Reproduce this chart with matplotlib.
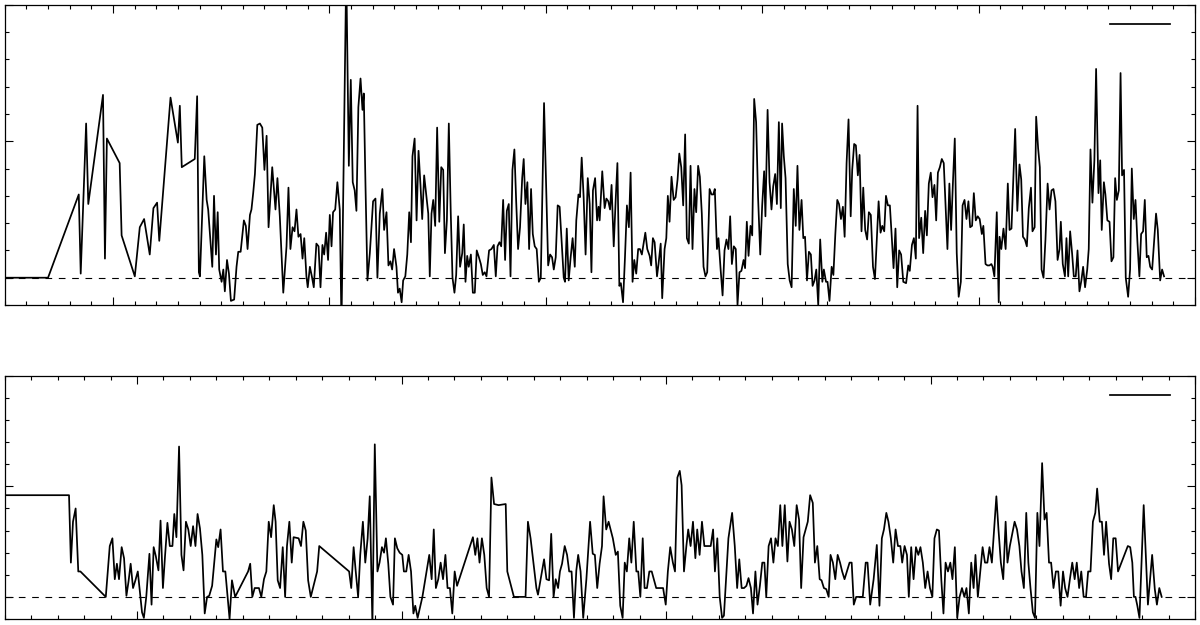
import matplotlib.pyplot as plt
from matplotlib.ticker import MultipleLocator
from matplotlib.lines import Line2D

# upper series (decimal year, value)
top_year = [
    1955.00, 1957.00, 1958.42, 1958.51, 1958.76, 1958.86, 1959.54, 1959.63, 1959.72, 1960.31,
    1960.40, 1961.01, 1961.24, 1961.44, 1961.70, 1961.87, 1962.04, 1962.14, 1962.66, 1963.00,
    1963.09, 1963.18, 1963.78, 1963.89, 1963.97, 1964.02,
    1964.22, 1964.33, 1964.40, 1964.59, 1964.67, 1964.76, 1964.84, 1964.91, 1965.02, 1965.10,
    1965.17, 1965.27, 1965.36, 1965.45, 1965.60, 1965.71, 1965.79, 1965.90, 1966.05, 1966.14,
    1966.22, 1966.33, 1966.40, 1966.48, 1966.56, 1966.67, 1966.79, 1966.90, 1967.00, 1967.10,
    1967.19, 1967.36, 1967.51, 1967.60, 1967.71, 1967.87, 1968.02, 1968.11, 1968.20, 1968.30,
    1968.39, 1968.48, 1968.57, 1968.67, 1968.76, 1968.84, 1968.94, 1969.00, 1969.10, 1969.19,
    1969.28, 1969.40, 1969.50, 1969.59, 1969.68, 1969.76, 1969.85, 1969.94, 1970.02, 1970.10,
    1970.17, 1970.27, 1970.37, 1970.48, 1970.56, 1970.78, 1970.90, 1970.99, 1971.08, 1971.17,
    1971.25, 1971.34, 1971.44, 1971.53, 1971.59, 1971.67, 1971.76, 1971.87, 1972.02, 1972.13,
    1972.22, 1972.33, 1972.45, 1972.53, 1972.64, 1972.73, 1972.82, 1972.90, 1972.99, 1973.10,
    1973.17, 1973.25,
    1973.34, 1973.41, 1973.51, 1973.60, 1973.69, 1973.77, 1973.84, 1973.94, 1974.03, 1974.12,
    1974.21, 1974.29, 1974.38, 1974.49, 1974.57, 1974.64, 1974.72, 1974.80, 1974.89, 1974.98,
    1975.08, 1975.17, 1975.26, 1975.34, 1975.43, 1975.52, 1975.61, 1975.69, 1975.78, 1975.86,
    1975.95, 1976.04, 1976.14, 1976.21, 1976.29, 1976.37, 1976.44, 1976.54, 1976.63, 1976.72,
    1976.81, 1976.91, 1977.00, 1977.09, 1977.18, 1977.26, 1977.38, 1977.49, 1977.60, 1977.69,
    1977.77, 1977.86, 1977.94, 1978.03, 1978.12, 1978.20, 1978.29, 1978.37, 1978.46, 1978.55,
    1978.63, 1978.72, 1978.81, 1978.91, 1978.98, 1979.06, 1979.15, 1979.23, 1979.32, 1979.40,
    1979.49, 1979.58, 1979.68, 1979.77, 1979.92, 1980.11, 1980.20, 1980.29, 1980.37, 1980.46,
    1980.55, 1980.64, 1980.74, 1980.83, 1980.89, 1980.97, 1981.06, 1981.15, 1981.24, 1981.34,
    1981.41, 1981.51, 1981.58, 1981.66, 1981.75, 1981.84, 1981.94, 1982.03, 1982.11, 1982.18,
    1982.28, 1982.37, 1982.44,
    1982.49, 1982.61, 1982.72, 1982.80, 1982.89, 1982.97, 1983.04, 1983.14, 1983.23, 1983.31,
    1983.40, 1983.47, 1983.57, 1983.66, 1983.75, 1983.84, 1983.92, 1984.01, 1984.09, 1984.18,
    1984.27, 1984.35, 1984.44, 1984.60, 1984.69, 1984.80, 1984.87, 1984.95, 1985.03, 1985.14,
    1985.21, 1985.31, 1985.38, 1985.49, 1985.57, 1985.64, 1985.72, 1985.81, 1985.91, 1986.00,
    1986.09, 1986.17, 1986.26, 1986.35, 1986.44, 1986.52, 1986.61, 1986.69, 1986.78, 1986.87,
    1986.95, 1987.04, 1987.12, 1987.21, 1987.29, 1987.38, 1987.46, 1987.57, 1987.66, 1987.74,
    1987.81, 1987.91, 1987.98, 1988.08, 1988.17, 1988.26, 1988.35, 1988.44, 1988.52, 1988.60,
    1988.69, 1988.78, 1988.86, 1988.95, 1989.04, 1989.14, 1989.21, 1989.29, 1989.37, 1989.46,
    1989.54, 1989.63, 1989.72, 1989.81, 1989.91, 1990.00, 1990.09, 1990.15, 1990.25, 1990.34,
    1990.43, 1990.51, 1990.60, 1990.68, 1990.77, 1990.86, 1990.92, 1991.00, 1991.08, 1991.18,
    1991.27, 1991.36, 1991.46, 1991.55, 1991.63, 1991.72,
    1991.82, 1991.90, 1991.98, 1992.07, 1992.16, 1992.25, 1992.33, 1992.42, 1992.50, 1992.59,
    1992.68, 1992.78, 1992.85, 1992.95, 1993.02, 1993.11, 1993.21, 1993.29, 1993.38, 1993.47,
    1993.55, 1993.64, 1993.73, 1993.81, 1993.90, 1993.99, 1994.09, 1994.16, 1994.25, 1994.33,
    1994.42, 1994.50, 1994.59, 1994.67, 1994.76, 1994.85, 1994.93, 1995.02, 1995.12, 1995.21,
    1995.29, 1995.38, 1995.47, 1995.55, 1995.64, 1995.72, 1995.81, 1995.90, 1995.98, 1996.07,
    1996.16, 1996.24, 1996.33, 1996.42, 1996.52, 1996.65, 1996.75, 1996.82, 1996.92, 1997.01,
    1997.10, 1997.18, 1997.25, 1997.35, 1997.44, 1997.53, 1997.61, 1997.70, 1997.79, 1997.87,
    1997.96, 1998.04, 1998.12, 1998.21, 1998.30, 1998.39, 1998.49, 1998.56, 1998.65, 1998.73,
    1998.82, 1998.90, 1998.99, 1999.08, 1999.18, 1999.26, 1999.35, 1999.44, 1999.53, 1999.61,
    1999.70, 1999.78, 1999.87, 1999.96, 2000.05, 2000.15, 2000.22, 2000.32, 2000.41, 2000.50,
    2000.59, 2000.65, 2000.73, 2000.84, 2000.93,
    2000.97, 2001.05, 2001.15, 2001.25, 2001.35, 2001.43, 2001.52, 2001.69, 2001.79, 2001.89,
    2001.97, 2002.05, 2002.14, 2002.23, 2002.32, 2002.42, 2002.49, 2002.59, 2002.66, 2002.75,
    2002.83, 2002.91, 2003.00, 2003.09, 2003.19, 2003.28, 2003.37, 2003.46, 2003.55, 2003.65,
    2003.74, 2003.80, 2003.89, 2003.99, 2004.06, 2004.14, 2004.23, 2004.32, 2004.40, 2004.49,
    2004.57, 2004.66, 2004.75, 2004.83, 2004.92, 2005.02, 2005.09, 2005.17, 2005.26, 2005.35,
    2005.43, 2005.54, 2005.62, 2005.69, 2005.79, 2005.86, 2005.95, 2006.05, 2006.14, 2006.23,
    2006.31, 2006.39, 2006.48, 2006.56, 2006.63, 2006.72, 2006.80, 2006.91, 2007.00, 2007.08,
    2007.17, 2007.25, 2007.34, 2007.43, 2007.51, 2007.60, 2007.68, 2007.77, 2007.85, 2007.93,
    2008.02, 2008.11, 2008.20, 2008.28, 2008.39, 2008.48, 2008.57,
]
top_value = [
    0.00, 0.00, 0.61, 0.03, 1.13, 0.54, 1.34, 0.14, 1.02, 0.84,
    0.31, 0.01, 0.37, 0.43, 0.17, 0.51, 0.55, 0.27, 1.32, 0.99,
    1.26, 0.81, 0.87, 1.33, 0.04, 0.01,
    0.89, 0.57, 0.50, 0.08, 0.60, 0.17, 0.48, 0.06, -0.03, 0.06,
    -0.10, 0.13, 0.03, -0.17, -0.16, 0.08, 0.19, 0.19, 0.42, 0.38,
    0.21, 0.46, 0.50, 0.62, 0.76, 1.12, 1.13, 1.10, 0.79, 1.04,
    0.37, 0.81, 0.50, 0.73, 0.45, -0.11, 0.23, 0.66, 0.21, 0.37,
    0.34, 0.50, 0.30, 0.32, 0.14, 0.29, 0.01, -0.07, 0.08, 0.01,
    -0.07, 0.25, 0.23, -0.07, 0.24, 0.17, 0.33, 0.13, 0.46, 0.23,
    0.48, 0.50, 0.70, 0.50, -0.35, 2.25, 0.82, 1.45, 0.70, 0.64,
    0.49, 1.25, 1.46, 1.23, 1.35, 0.67, -0.02, 0.18, 0.56, 0.58,
    0.00, 0.47, 0.65, 0.35, 0.48, 0.09, 0.12, 0.06, 0.21, 0.08,
    -0.11, -0.08,
    -0.18, -0.02, 0.01, 0.17, 0.48, 0.26, 0.89, 1.02, 0.42, 0.93,
    0.68, 0.43, 0.75, 0.59, 0.47, 0.01, 0.47, 0.57, 0.38, 1.10,
    0.41, 0.81, 0.79, 0.18, 0.42, 1.13, 0.47, 0.00, -0.11, 0.02,
    0.45, 0.08, 0.18, 0.39, -0.03, 0.16, 0.08, 0.17, -0.11, -0.11,
    0.20, 0.15, 0.10, 0.02, 0.04, 0.01, 0.20, 0.21, 0.24, 0.01,
    0.23, 0.26, 0.23, 0.57, 0.13, 0.49, 0.54, 0.01, 0.79, 0.94,
    0.57, 0.21, 0.37, 0.73, 0.87, 0.54, 0.70, 0.21, 0.65, 0.32,
    0.23, 0.21, -0.03, 0.00, 1.28, 0.09, 0.17, 0.15, 0.06, 0.15,
    0.53, 0.52, 0.25, 0.00, -0.03, 0.36, -0.02, 0.15, 0.29, 0.08,
    0.42, 0.61, 0.59, 0.88, 0.59, 0.17, 0.73, 0.54, 0.04, 0.64,
    0.73, 0.42, 0.52,
    0.42, 0.78, 0.51, 0.58, 0.56, 0.50, 0.68, 0.23, 0.57, 0.84,
    -0.06, -0.04, -0.18, 0.15, 0.53, 0.37, 0.77, -0.03, 0.13, 0.03,
    0.21, 0.21, 0.17, 0.33, 0.21, 0.16, 0.09, 0.29, 0.26, 0.01,
    0.10, 0.25, -0.15, 0.21, 0.29, 0.60, 0.41, 0.74, 0.57, 0.59,
    0.72, 0.91, 0.81, 0.53, 1.05, 0.29, 0.25, 0.82, 0.21, 0.65,
    0.48, 0.82, 0.74, 0.47, 0.08, 0.01, 0.04, 0.65, 0.61, 0.61,
    0.65, 0.21, 0.29, 0.06, -0.13, 0.20, 0.28, 0.21, 0.45, 0.10,
    0.23, 0.21, -0.20, 0.04, 0.05, 0.13, 0.07, 0.41, 0.16, 0.38,
    0.31, 1.31, 1.14, 0.59, 0.17, 0.53, 0.78, 0.45, 1.23, 0.70,
    0.50, 0.67, 0.76, 0.54, 1.14, 0.51, 1.13, 0.89, 0.73, 0.10,
    -0.02, -0.07, 0.65, 0.38, 0.82, 0.35,
    0.57, 0.29, 0.30, -0.02, 0.19, 0.17, -0.06, -0.02, 0.06, -0.20,
    0.28, -0.03, 0.06, -0.03, -0.03, -0.17, 0.08, 0.02, 0.32, 0.57,
    0.54, 0.43, 0.52, 0.30, 0.84, 1.16, 0.45, 0.79, 0.98, 0.97,
    0.75, 0.90, 0.34, 0.66, 0.35, 0.28, 0.48, 0.46, 0.08, -0.01,
    0.26, 0.56, 0.33, 0.38, 0.34, 0.60, 0.53, 0.53, 0.32, 0.07,
    0.36, -0.07, 0.20, 0.17, -0.03, -0.04, 0.09, 0.05, 0.24, 0.29,
    0.14, 1.26, 0.29, 0.44, 0.18, 0.49, 0.31, 0.69, 0.77, 0.59,
    0.68, 0.42, 0.77, 0.81, 0.87, 0.84, 0.47, 0.21, 0.69, 0.35,
    0.72, 1.02, 0.18, -0.14, -0.03, 0.53, 0.57, 0.43, 0.56, 0.37,
    0.38, 0.62, 0.42, 0.45, 0.43, 0.32, 0.38, 0.10, 0.09, 0.09,
    0.10, 0.08, 0.01, 0.48, -0.18,
    0.30, 0.21, 0.36, 0.21, 0.69, 0.35, 0.36, 1.09, 0.49, 0.83,
    0.72, 0.30, 0.28, 0.23, 0.51, 0.66, 0.34, 0.37, 1.18, 0.95,
    0.81, 0.06, 0.00, 0.28, 0.69, 0.50, 0.64, 0.65, 0.56, 0.13,
    0.21, 0.41, 0.10, 0.01, 0.29, 0.01, 0.34, 0.18, 0.01, 0.01,
    0.20, -0.10, -0.02, 0.08, -0.07, 0.06, 0.21, 0.94, 0.55, 0.86,
    1.53, 0.62, 0.86, 0.35, 0.70, 0.61, 0.42, 0.41, 0.12, 0.15,
    0.73, 0.57, 0.64, 1.50, 0.75, 0.79, 0.00, -0.14, 0.06, 0.80,
    0.43, 0.57, 0.26, 0.01, 0.32, 0.34, 0.57, 0.15, 0.16, 0.08,
    0.06, 0.26, 0.47, 0.35, -0.02, 0.06, 0.01,
]

# lower series (decimal year, value)
bottom_year = [
    1965.00, 1967.43, 1967.50, 1967.58, 1967.68, 1967.78, 1967.86, 1968.82, 1968.97, 1969.07,
    1969.16, 1969.24, 1969.32, 1969.42, 1969.51, 1969.60, 1969.68, 1969.76, 1969.85, 1969.94,
    1970.03, 1970.10, 1970.19, 1970.26, 1970.35, 1970.47, 1970.55, 1970.63, 1970.71, 1970.81,
    1970.89, 1970.98, 1971.06, 1971.15, 1971.24, 1971.34, 1971.41, 1971.49, 1971.59, 1971.68,
    1971.76, 1971.85, 1971.94, 1972.03, 1972.12, 1972.21, 1972.29, 1972.38, 1972.47, 1972.56,
    1972.65, 1972.73, 1972.84, 1973.00, 1973.07, 1973.16, 1973.25, 1973.34, 1973.50, 1973.59,
    1973.71, 1974.20, 1974.28, 1974.36, 1974.45, 1974.61, 1974.70, 1974.80, 1974.89, 1974.98,
    1975.07, 1975.17, 1975.24, 1975.32, 1975.41, 1975.51, 1975.60, 1975.67, 1975.76, 1975.85,
    1975.92, 1976.11, 1976.20, 1976.29, 1976.38, 1976.47, 1976.57, 1976.81, 1976.89, 1978.02,
    1978.10, 1978.19, 1978.27, 1978.36, 1978.44, 1978.54, 1978.63, 1978.72, 1978.80, 1978.88,
    1978.90, 1978.99, 1979.09, 1979.17, 1979.26, 1979.34, 1979.41, 1979.50, 1979.58, 1979.68,
    1979.75, 1979.84,
    1979.93, 1980.03, 1980.09, 1980.18, 1980.27, 1980.36, 1980.45, 1980.52, 1980.61, 1980.79,
    1981.05, 1981.14, 1981.22, 1981.30, 1981.39, 1981.48, 1981.57, 1981.66, 1981.74, 1981.83,
    1981.92, 1982.01, 1982.10, 1982.70, 1982.79, 1982.87, 1982.95, 1983.04, 1983.13, 1983.22,
    1983.31, 1983.40, 1983.50, 1983.67, 1983.94, 1984.00, 1984.25, 1984.69, 1984.78, 1984.88,
    1985.10, 1985.16, 1985.39, 1985.48, 1985.58, 1985.66, 1985.75, 1985.83, 1985.92, 1985.99,
    1986.07, 1986.17, 1986.26, 1986.34, 1986.43, 1986.52, 1986.61, 1986.68, 1986.77, 1986.87,
    1986.99, 1987.13, 1987.23, 1987.31, 1987.40, 1987.49, 1987.58, 1987.64, 1987.74, 1987.83,
    1987.99, 1988.10, 1988.18, 1988.27, 1988.36, 1988.44, 1988.52, 1988.61, 1988.69, 1988.78,
    1988.88, 1988.95, 1989.03, 1989.12, 1989.19, 1989.28, 1989.37, 1989.46, 1989.63, 1989.89,
    1989.99, 1990.07, 1990.16, 1990.26, 1990.34, 1990.43, 1990.52, 1990.59, 1990.68, 1990.77,
    1990.84, 1990.93, 1991.02, 1991.11, 1991.18, 1991.27, 1991.36, 1991.45, 1991.52, 1991.69,
    1991.78, 1991.85, 1991.94, 1992.03, 1992.12, 1992.19, 1992.36, 1992.50, 1992.60, 1992.69,
    1992.77, 1992.86, 1992.95, 1993.04, 1993.12, 1993.21, 1993.29, 1993.38, 1993.46, 1993.55,
    1993.64, 1993.72, 1993.79, 1993.88, 1993.97, 1994.06, 1994.14, 1994.23, 1994.32, 1994.40,
    1994.49, 1994.59, 1994.67, 1994.76, 1994.85, 1994.94, 1995.03,
    1995.11, 1995.20, 1995.28, 1995.36, 1995.45, 1995.55, 1995.63, 1995.72, 1995.81, 1995.88,
    1995.97, 1996.06, 1996.15, 1996.22, 1996.31, 1996.40, 1996.49, 1996.58, 1996.66, 1996.75,
    1996.84, 1996.94, 1997.02, 1997.10, 1997.19, 1997.44, 1997.55, 1997.62, 1997.72, 1997.85,
    1997.97, 1998.07, 1998.16, 1998.24, 1998.33, 1998.41, 1998.50, 1998.59, 1998.68, 1998.77,
    1998.86, 1998.93, 1999.02, 1999.11, 1999.18, 1999.27, 1999.36, 1999.45, 1999.54, 1999.62,
    1999.71, 1999.80, 1999.89, 1999.98, 2000.07, 2000.15, 2000.24, 2000.32, 2000.41, 2000.49,
    2000.57, 2000.66, 2000.75, 2000.83, 2000.92, 2001.01, 2001.10, 2001.19, 2001.28, 2001.36,
    2001.45, 2001.54, 2001.63, 2001.70, 2001.79, 2001.88, 2001.97, 2002.06, 2002.15, 2002.23,
    2002.32, 2002.49, 2002.57, 2002.66, 2002.75, 2002.84, 2002.91, 2003.00, 2003.18, 2003.27,
    2003.36, 2003.44, 2003.53, 2003.62, 2003.70, 2003.78, 2003.87, 2003.95, 2004.04, 2004.12,
    2004.22, 2004.31, 2004.39, 2004.48, 2004.56, 2004.65, 2004.74, 2004.83, 2004.92, 2005.01,
    2005.09, 2005.18, 2005.27, 2005.36, 2005.45, 2005.53, 2005.62, 2005.70, 2005.79, 2005.88,
    2005.96, 2006.05, 2006.14, 2006.23, 2006.30, 2006.40, 2006.48, 2006.56, 2006.64, 2006.75,
    2006.83, 2006.91, 2007.00, 2007.09, 2007.46, 2007.55, 2007.63, 2007.69, 2007.75, 2007.82,
    2007.90, 2008.06, 2008.22, 2008.38, 2008.48, 2008.56, 2008.65, 2008.74,
]
bottom_value = [
    0.92, 0.92, 0.31, 0.68, 0.80, 0.23, 0.23, 0.00, 0.46, 0.53,
    0.16, 0.30, 0.16, 0.45, 0.35, 0.01, 0.14, 0.30, 0.08, 0.15,
    0.23, 0.07, -0.14, -0.19, 0.00, 0.39, -0.07, 0.45, 0.37, 0.24,
    0.69, 0.08, 0.37, 0.67, 0.46, 0.46, 0.75, 0.54, 1.36, 0.38,
    0.24, 0.68, 0.61, 0.46, 0.64, 0.46, 0.75, 0.62, 0.38, -0.15,
    0.00, 0.01, 0.10, 0.52, 0.45, 0.61, 0.23, 0.23, -0.20, 0.15,
    0.00, 0.23, 0.30, 0.00, 0.08, 0.08, 0.00, 0.16, 0.23, 0.68,
    0.54, 0.83, 0.68, 0.15, 0.08, 0.45, 0.00, 0.46, 0.68, 0.31,
    0.54, 0.53, 0.46, 0.68, 0.60, 0.15, 0.00, 0.23, 0.46, 0.23,
    0.08, 0.45, 0.23, 0.00, 0.38, 0.68, 0.31, 0.53, 0.91, 0.00,
    -0.25, 1.38, 0.23, 0.31, 0.45, 0.40, 0.53, 0.30, 0.00, -0.07,
    0.53, 0.44,
    0.40, 0.38, 0.23, 0.23, 0.38, 0.23, -0.15, -0.08, -0.19, 0.00,
    0.38, 0.16, 0.61, 0.08, 0.16, 0.31, 0.16, 0.38, 0.08, 0.08,
    -0.15, 0.23, 0.10, 0.54, 0.38, 0.53, 0.31, 0.53, 0.38, 0.08,
    0.00, 1.08, 0.84, 0.83, 0.84, 0.23, 0.00, 0.00, 0.68, 0.53,
    0.08, 0.02, 0.34, 0.16, 0.15, 0.57, 0.00, 0.16, 0.08, 0.23,
    0.30, 0.46, 0.38, 0.23, 0.23, -0.19, 0.24, 0.38, 0.23, -0.19,
    0.16, 0.68, 0.39, 0.38, 0.08, 0.30, 0.46, 0.91, 0.61, 0.68,
    0.53, 0.38, 0.41, -0.08, -0.19, 0.31, 0.23, 0.53, 0.31, 0.68,
    0.23, 0.23, 0.00, 0.53, 0.08, 0.08, 0.23, 0.23, 0.08, 0.08,
    -0.07, 0.23, 0.45, 0.31, 0.23, 1.08, 1.14, 1.01, 0.23, 0.46,
    0.61, 0.46, 0.68, 0.35, 0.61, 0.38, 0.68, 0.46, 0.46, 0.46,
    0.61, 0.23, 0.53, 0.00, -0.19, -0.17, 0.53, 0.76, 0.46, 0.08,
    0.34, 0.08, 0.08, 0.10, 0.17, 0.08, -0.15, 0.23, -0.07, 0.10,
    0.31, 0.31, 0.00, 0.46, 0.53, 0.31, 0.53, 0.46, 0.83, 0.46,
    0.83, 0.32, 0.68, 0.61, 0.46, 0.83, 0.70,
    0.08, 0.54, 0.61, 0.68, 0.92, 0.85, 0.31, 0.46, 0.16, 0.15,
    0.08, 0.07, 0.00, 0.38, 0.31, 0.16, 0.38, 0.31, 0.23, 0.16,
    0.23, 0.31, 0.31, -0.07, 0.00, 0.00, 0.31, 0.31, -0.07, 0.16,
    0.47, -0.08, 0.53, 0.61, 0.76, 0.68, 0.53, 0.31, 0.61, 0.46,
    0.46, 0.31, 0.46, 0.38, 0.00, 0.45, 0.16, 0.45, 0.38, 0.45,
    0.31, 0.08, 0.23, 0.08, 0.00, 0.53, 0.61, 0.60, 0.15, -0.15,
    0.31, 0.23, 0.31, 0.16, 0.45, -0.19, 0.00, 0.08, 0.00, 0.08,
    -0.15, 0.31, 0.08, 0.38, 0.00, 0.23, 0.45, 0.31, 0.31, 0.45,
    0.31, 0.91, 0.61, 0.31, 0.16, 0.68, 0.31, 0.46, 0.68, 0.61,
    0.46, 0.23, 0.08, 0.76, 0.31, 0.08, -0.14, -0.19, 0.76, 0.46,
    1.21, 0.70, 0.76, 0.31, 0.31, 0.08, 0.23, 0.23, -0.08, 0.23,
    0.08, 0.00, 0.16, 0.31, 0.16, 0.31, 0.08, 0.23, 0.00, 0.00,
    0.23, 0.23, 0.68, 0.76, 0.98, 0.68, 0.68, 0.38, 0.68, 0.30,
    0.16, 0.53, 0.53, 0.23, 0.46, 0.45, 0.31, 0.00, 0.00, -0.08,
    -0.19, 0.83, -0.07, 0.38, 0.07, -0.07, 0.08, 0.00,
]

panels = [
    (top_year, top_value, (1955, 2010), [4.75 / 1200, 1 - 305 / 625, 1190.25 / 1200, 300.2 / 625], 0.933),
    (bottom_year, bottom_value, (1965, 2010), [4.75 / 1200, 1 - 619 / 625, 1190.25 / 1200, 243.2 / 625], 0.918),
]

fig = plt.figure(figsize=(12, 6.25), dpi=100)

for xs, ys, xlim, rect, leg_y in panels:
    ax = fig.add_axes(rect)
    ax.plot(xs, ys, color='black', lw=1.25)
    ax.axhline(0, color='black', lw=0.8, ls=(0, (6, 6)))
    ax.set_xlim(*xlim)
    ax.set_ylim(-0.2, 2.0)
    ax.xaxis.set_major_locator(MultipleLocator(10))
    ax.xaxis.set_minor_locator(MultipleLocator(1))
    ax.yaxis.set_major_locator(MultipleLocator(1))
    ax.yaxis.set_minor_locator(MultipleLocator(0.2))
    ax.tick_params(which='both', direction='in', top=True, right=True,
                   labelbottom=False, labelleft=False, width=0.8, color='black')
    ax.tick_params(which='major', length=5.8)
    ax.tick_params(which='minor', length=3.1)
    for sp in ax.spines.values():
        sp.set_linewidth(0.9)
    handle = Line2D([], [], color='black', lw=1.25)
    ax.legend([handle], [''], loc='center right', bbox_to_anchor=(0.979, leg_y),
              frameon=False, handlelength=4.3, handletextpad=0, borderpad=0,
              borderaxespad=0)

fig.savefig('out.png', dpi=100)
